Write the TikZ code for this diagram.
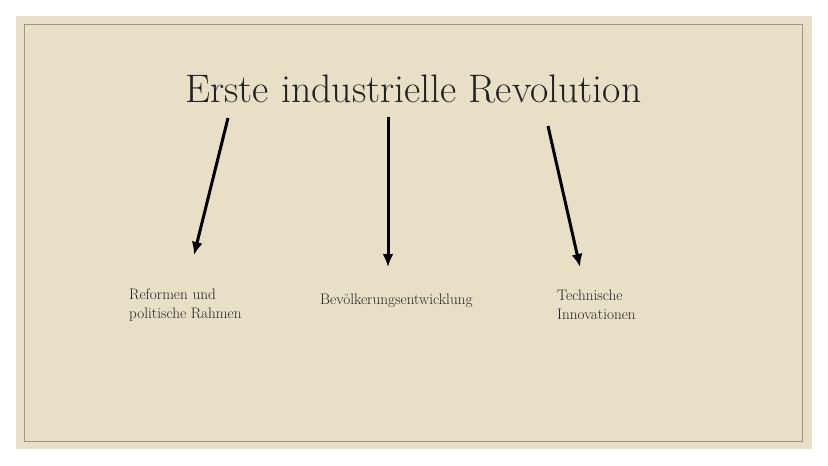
\documentclass[tikz,border=0pt]{standalone}
\usetikzlibrary{arrows.meta,positioning}
\definecolor{slidebeige}{HTML}{E7DFC6}
\definecolor{slideframe}{HTML}{9C9682}
\definecolor{slidetext}{HTML}{222222}
\newcommand{\RevolutionTitleSize}{39.8}
\newcommand{\RevolutionLabelSize}{15.2}

\begin{document}
\begin{tikzpicture}[x=1pt,y=-1pt,
		revarrow/.style={line width=3pt, -{Latex[length=13pt,width=11pt]}},
		revlabel/.style={inner sep=0pt, align=left, anchor=west, text=slidetext,
			font=\fontsize{\RevolutionLabelSize}{19}\selectfont}]
		\useasboundingbox (0,0) rectangle (828,466);
		\fill[white] (0,0) rectangle (828,466);
		\fill[slidebeige] (16,16) rectangle (812,449);
		\draw[slideframe, line width=0.8pt] (24.5,24.5) rectangle (802,441);

		\node[inner sep=0pt, anchor=base, text=slidetext] (title) at (413.5,102)
			{\fontsize{\RevolutionTitleSize}{46}\selectfont Erste industrielle Revolution};

		\node[revlabel] (reform) at (129,305) {Reformen und\\politische Rahmen};
		\node[revlabel] (bevoelk) at (320,301) {Bevölkerungsentwicklung};
		\node[revlabel] (technik) at (557,305) {Technische\\Innovationen};

		\coordinate (s1) at (228,118);
		\coordinate (e1) at (194,255);
		\coordinate (s2) at (388,117);
		\coordinate (e2) at (388,267);
		\coordinate (s3) at (548,126);
		\coordinate (e3) at (580,267);

		\draw[revarrow] (s1) -- (e1);
		\draw[revarrow] (s2) -- (e2);
		\draw[revarrow] (s3) -- (e3);
	\end{tikzpicture}
\end{document}
